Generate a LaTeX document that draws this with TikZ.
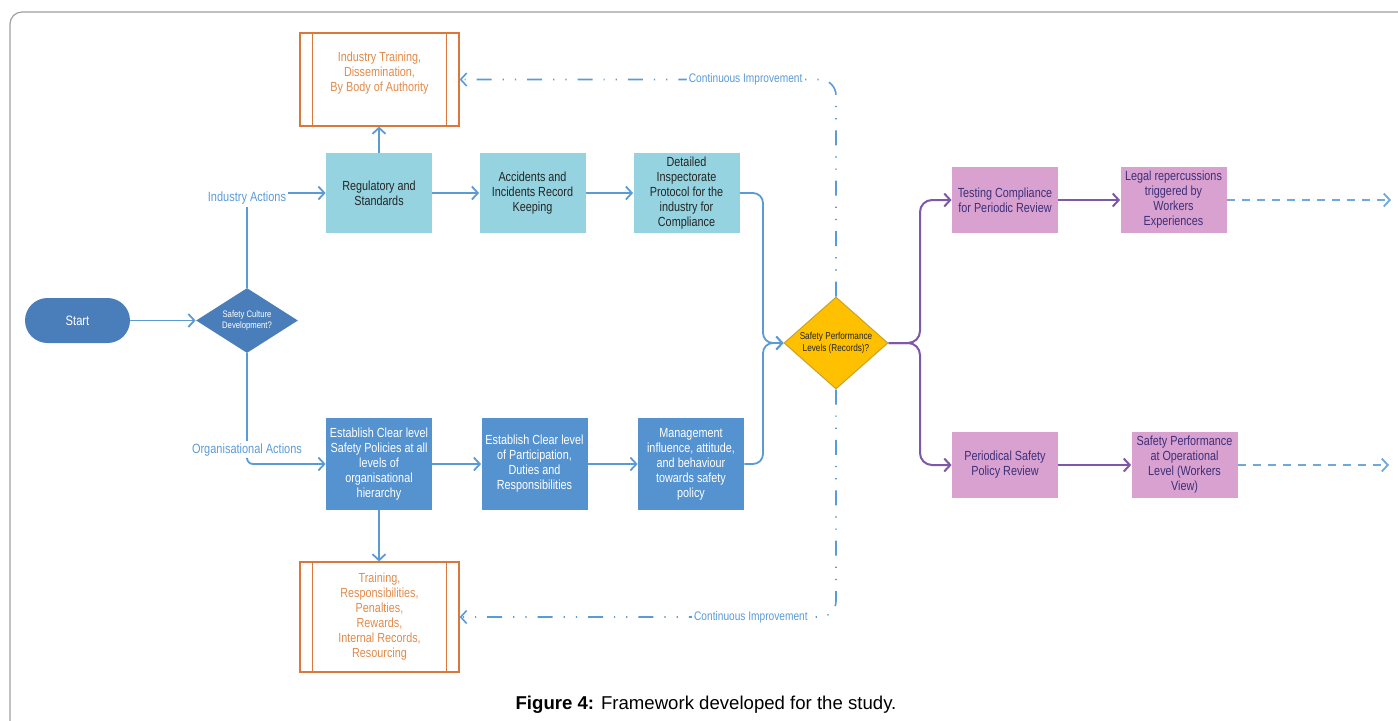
\documentclass[tikz,border=0pt]{standalone}
\usepackage{fontspec}
\setmainfont{Liberation Sans}
\newfontfamily\cond[FakeStretch=0.82]{Liberation Sans}
\usetikzlibrary{arrows.meta,shapes.geometric,calc}
\definecolor{cyanfill}{HTML}{94D3DF}
\definecolor{bluefill}{HTML}{5592D0}
\definecolor{darkblue}{HTML}{4A7EBB}
\definecolor{lineblue}{HTML}{5B9BD5}
\definecolor{lightblue}{HTML}{6FA8DC}
\definecolor{orangeln}{HTML}{D9783A}
\definecolor{orangetx}{HTML}{E08A4A}
\definecolor{gold}{HTML}{FFC000}
\definecolor{goldln}{HTML}{C9A227}
\definecolor{purpleln}{HTML}{7E57A8}
\definecolor{pinkfill}{HTML}{D8A1CF}
\definecolor{purpletx}{HTML}{3D2F7A}
\definecolor{frame}{HTML}{A0A0A0}
\tikzset{
  tip/.style={-{Straight Barb[length=3pt,width=6.5pt]}},
  conn/.style={draw=lineblue, line width=0.9pt, tip},
  pconn/.style={draw=purpleln, line width=1pt, tip},
  dashconn/.style={draw=lightblue, line width=0.9pt, dash pattern=on 4pt off 3.5pt, tip},
  ciconn/.style={draw=lineblue, line width=0.8pt, dash pattern=on 7.5pt off 5.5pt on 0.6pt off 5.5pt on 0.6pt off 5.5pt, tip},
  boxtxt/.style={font=\cond\fontsize{6.6}{7.5}\selectfont, align=center, inner sep=1pt},
  cbox/.style={boxtxt, fill=cyanfill, text=black!85, minimum width=53pt, minimum height=40pt},
  bbox/.style={boxtxt, fill=bluefill, text=white, minimum width=53pt, minimum height=46pt},
  pbox/.style={boxtxt, fill=pinkfill, text=purpletx, minimum width=53pt, minimum height=33pt},
  obox/.style={boxtxt, draw=orangeln, line width=0.6pt, text=orangetx, minimum width=79.5pt},
  lbl/.style={font=\cond\fontsize{6.7}{7.5}\selectfont, text=lineblue, inner sep=1pt},
  cilbl/.style={font=\cond\fontsize{6.2}{7}\selectfont, text=lineblue, fill=white, inner sep=1pt},
}
\begin{document}
\begin{tikzpicture}[x=0.5pt,y=-0.5pt]
\useasboundingbox (0,0) rectangle (1398,720);
\draw[frame, line width=0.6pt, rounded corners=6pt] (10,12) rectangle (1430,760);

% top row
\node[obox, minimum height=46.5pt] (itb) at (379.5,79.5) {Industry Training,\\Dissemination,\\By Body of Authority\\ \mbox{}};
\node[cbox] (reg) at (379,193) {Regulatory and\\Standards};
\node[cbox] (acc) at (532.5,193) {Accidents and\\Incidents Record\\Keeping};
\node[cbox] (det) at (686.5,193) {Detailed\\Inspectorate\\Protocol for the\\industry for\\Compliance};

% start and decision
\node[fill=darkblue, text=white, rounded corners=11.25pt, minimum width=52.5pt, minimum height=22.5pt, font=\cond\fontsize{6.8}{8}\selectfont] (start) at (77.5,320.5) {Start};
\node[diamond, fill=darkblue, text=white, minimum width=51pt, minimum height=32.5pt, aspect=1.57, inner sep=0pt, align=center, font=\cond\fontsize{4.7}{5.6}\selectfont] (d1) at (247,320.5) {Safety Culture\\Development?};
\node[lbl] (ia) at (247,198) {Industry Actions};
\node[lbl] (oa) at (247,450) {Organisational Actions};

% bottom row
\node[bbox] (est) at (379,464) {Establish Clear level\\Safety Policies at all\\levels of\\organisational\\hierarchy};
\node[bbox] (par) at (534.5,464) {Establish Clear level\\of Participation,\\Duties and\\Responsibilities};
\node[bbox] (mgmt) at (691,464) {Management\\influence, attitude,\\and behaviour\\towards safety\\policy};
\node[obox, minimum height=55pt] (trb) at (379.5,617) {Training,\\Responsibilities,\\Penalties,\\Rewards,\\Internal Records,\\Resourcing};

% inner lines of the orange boxes
\foreach \b in {itb,trb}{
  \draw[orangeln, line width=0.6pt] ($(\b.north west)+(13,0)$) -- ($(\b.south west)+(13,0)$);
  \draw[orangeln, line width=0.6pt] ($(\b.north east)+(-13,0)$) -- ($(\b.south east)+(-13,0)$);
}

% safety performance decision
\node[diamond, fill=gold, draw=goldln, line width=0.5pt, minimum width=52pt, minimum height=46pt, aspect=1.13, inner sep=0pt, align=center, font=\cond\fontsize{5}{6}\selectfont, text=black!85] (sp) at (836,343) {Safety Performance\\Levels (Records)?};

% right boxes
\node[pbox] (test) at (1005,200) {Testing Compliance\\for Periodic Review};
\node[pbox] (legal) at (1173.5,200) {Legal repercussions\\triggered by\\Workers\\Experiences};
\node[pbox] (per) at (1005,465) {Periodical Safety\\Policy Review};
\node[pbox] (sop) at (1184.5,465) {Safety Performance\\at Operational\\Level (Workers\\View)};

\coordinate (mx) at (763,343);
\coordinate (px) at (920,343);
\coordinate (e1) at (1391,200);
\coordinate (e2) at (1389,465);

% connectors
\draw[conn] (start.east) -- (d1.west);
\draw[draw=lineblue, line width=0.9pt] (d1.north) -- (ia.south);
\draw[conn] (ia.east |- reg.west) -- (reg.west);
\draw[draw=lineblue, line width=0.9pt] (d1.south) -- (oa.north);
\draw[conn, rounded corners=3pt] (oa.south) |- (est.west);
\draw[conn] (reg.north) -- (reg.north |- itb.south);
\draw[conn] (reg.east) -- (acc.west);
\draw[conn] (acc.east) -- (det.west);
\draw[conn] (est.south) -- (est.south |- trb.north);
\draw[conn] (est.east) -- (par.west);
\draw[conn] (par.east) -- (mgmt.west);
\draw[conn, rounded corners=5pt] (det.east) -| (mx) -- (sp.west);
\draw[conn, rounded corners=5pt] (mgmt.east) -| (mx) -- (sp.west);

\draw[ciconn, rounded corners=8pt] (sp.north) |- (itb.east) node[cilbl, pos=0.62] {Continuous Improvement};
\draw[ciconn, rounded corners=8pt] (sp.south) |- (trb.east) node[cilbl, pos=0.613] {Continuous Improvement};

\draw[pconn, rounded corners=6pt] (sp.east) -- (px) |- (test.west);
\draw[pconn, rounded corners=6pt] (sp.east) -- (px) |- (per.west);
\draw[pconn] (test.east) -- (legal.west);
\draw[pconn] (per.east) -- (sop.west);
\draw[dashconn] (legal.east) -- (e1);
\draw[dashconn] (sop.east) -- (e2);

\node[font=\fontsize{9.3}{11}\selectfont] (cap) at (706,705) {\textbf{Figure 4:} Framework developed for the study.};
\end{tikzpicture}
\end{document}
